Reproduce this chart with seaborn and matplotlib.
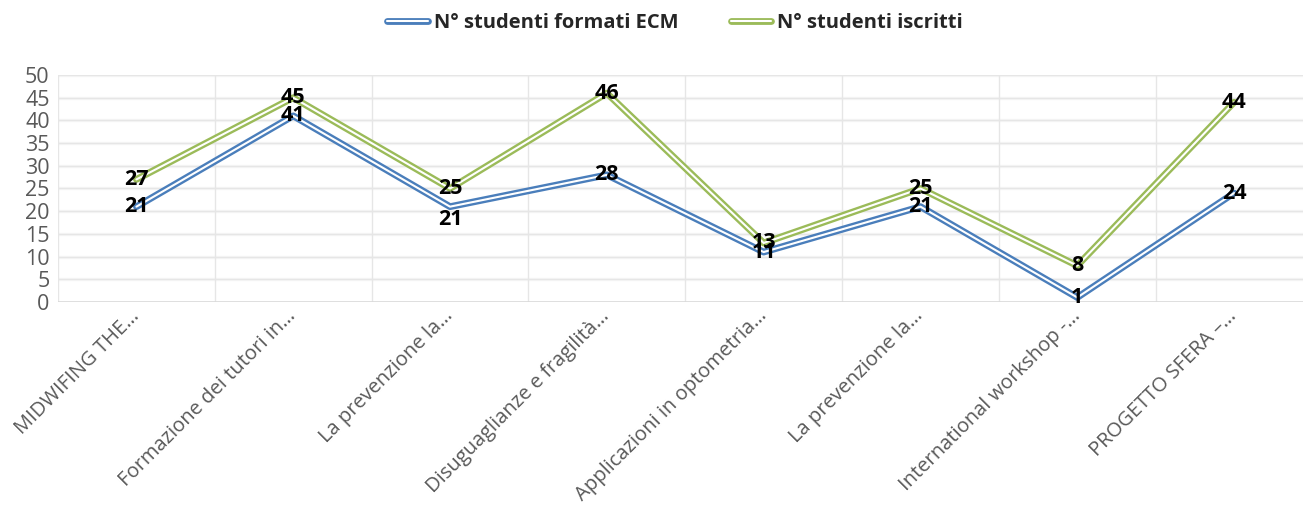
import matplotlib
matplotlib.use("Agg")
import matplotlib.pyplot as plt
import matplotlib.patheffects as pe
import matplotlib.transforms as mtransforms
from matplotlib.lines import Line2D
import pandas as pd
import seaborn as sns

# Data
courses = [
    "MIDWIFING THE…",
    "Formazione dei tutori in…",
    "La prevenzione la…",
    "Disuguaglianze e fragilità…",
    "Applicazioni in optometria…",
    "La prevenzione la…",
    "International workshop -…",
    "PROGETTO SFERA –…",
]
formati_ecm = [21, 41, 21, 28, 11, 21, 1, 24]
iscritti = [27, 45, 25, 46, 13, 25, 8, 44]
series_names = ["N° studenti formati ECM", "N° studenti iscritti"]
y_ticks = [0, 5, 10, 15, 20, 25, 30, 35, 40, 45, 50]

BLUE = "#4a7ebb"
GREEN = "#9bbb59"
FONT = ["Open Sans", "DejaVu Sans"]

sns.set_theme(style="white")
plt.rcParams["font.family"] = FONT

df = pd.DataFrame({
    "pos": list(range(len(courses))) * 2,
    "value": formati_ecm + iscritti,
    "serie": [series_names[0]] * len(courses) + [series_names[1]] * len(courses),
})

fig = plt.figure(figsize=(13.03, 5.15), dpi=100)
ax = fig.add_axes([58 / 1303, 1 - 302 / 515, (1312.5 - 58) / 1303, (302 - 75) / 515])

# light grid: horizontal every 5, vertical at category boundaries
for y in y_ticks[1:]:
    ax.axhline(y, color="#f4f4f4", lw=2.4, zorder=0)
    ax.axhline(y, color="#e6e6e6", lw=0.8, zorder=0)
for b in range(len(courses) + 1):
    ax.axvline(b - 0.5, color="#e6e6e6", lw=1.0, zorder=0)
ax.axhline(0, color="#d9d9d9", lw=1.2, zorder=1)

n_before = len(ax.get_lines())
sns.lineplot(data=df, x="pos", y="value", hue="serie",
             palette=["white", "white"], linewidth=1.5, ax=ax, legend=False)


def double_line(col):
    # coloured thick stroke under a thin white core
    return [pe.Stroke(linewidth=4.9, foreground=col), pe.Normal()]


series_lines = [l for l in ax.get_lines()[n_before:] if len(l.get_xdata()) == len(courses)]
for line, col in zip(series_lines, [BLUE, GREEN]):
    line.set_path_effects(double_line(col))
    line.set_zorder(3)

# data labels (centered on points, one pushed below as in the original)
for i, v in enumerate(formati_ecm):
    dy = -2.8 if i == 2 else 0
    ax.text(i, v + dy, str(v), ha="center", va="center", fontsize=15.5,
            fontweight="bold", color="black", zorder=5)
for i, v in enumerate(iscritti):
    ax.text(i, v, str(v), ha="center", va="center", fontsize=15.5,
            fontweight="bold", color="black", zorder=5)

ax.set_xlim(-0.5, len(courses) - 0.5)
ax.set_ylim(0, 50)
ax.set_yticks(y_ticks)
ax.set_yticklabels([str(t) for t in y_ticks], fontsize=15.5, color="#595959")
ax.set_xticks(range(len(courses)))
ax.set_xticklabels(courses, rotation=45, ha="right", va="center",
                   rotation_mode="anchor", fontsize=14.5, color="#595959")
shift = mtransforms.ScaledTranslation(21 / 100, -8 / 100, fig.dpi_scale_trans)
for lbl in ax.get_xticklabels():
    lbl.set_transform(lbl.get_transform() + shift)
ax.tick_params(axis="x", length=0, pad=8)
ax.tick_params(axis="y", length=0, pad=6)
ax.set_xlabel("")
ax.set_ylabel("")
for s in ax.spines.values():
    s.set_visible(False)

handles = []
for col in [BLUE, GREEN]:
    h = Line2D([], [], color="white", lw=1.5)
    h.set_path_effects(double_line(col))
    handles.append(h)
fig.legend(handles, series_names, loc="center", bbox_to_anchor=(0.518, 0.955), ncol=2,
           frameon=False, handlelength=2.0, columnspacing=2.6, handletextpad=0.3,
           prop={"weight": "bold", "size": 14.5})

fig.savefig("out.png", dpi=100)
